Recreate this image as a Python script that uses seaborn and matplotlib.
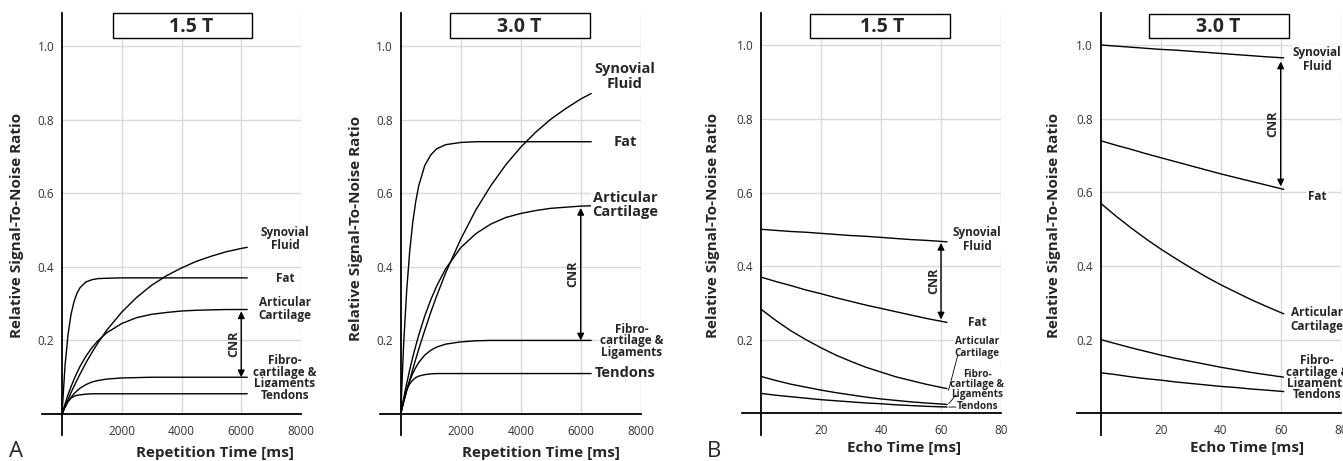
import numpy as np
import pandas as pd

import matplotlib
matplotlib.use("Agg")

import matplotlib.pyplot as plt
from matplotlib.patches import Rectangle
import seaborn as sns


sns.set_style("white")
plt.rcParams["font.family"] = ["Open Sans", "DejaVu Sans"]

W, H = 1343, 461

TISSUES = ["Synovial Fluid", "Fat", "Articular Cartilage", "Fibrocartilage & Ligaments", "Tendons"]

# Panel A, 1.5 T: relative SNR vs repetition time [ms]
tr_15 = [0, 100, 200, 300, 400, 500, 600, 800, 1000, 1200, 1500, 2000, 2500, 3000, 3500,
         4000, 4500, 5000, 5500, 6000, 6200]
syn_tr_15 = [0, 0.020, 0.039, 0.058, 0.075, 0.092, 0.108, 0.139, 0.167, 0.193, 0.228, 0.277,
             0.317, 0.350, 0.376, 0.397, 0.415, 0.429, 0.441, 0.450, 0.453]
fat_tr_15 = [0, 0.131, 0.215, 0.270, 0.305, 0.328, 0.343, 0.359, 0.365, 0.368, 0.369, 0.370,
             0.370, 0.370, 0.370, 0.370, 0.370, 0.370, 0.370, 0.370, 0.370]
art_tr_15 = [0, 0.027, 0.052, 0.074, 0.094, 0.112, 0.129, 0.157, 0.180, 0.199, 0.221, 0.246,
             0.262, 0.271, 0.276, 0.280, 0.282, 0.283, 0.284, 0.284, 0.284]
fib_tr_15 = [0, 0.018, 0.033, 0.045, 0.055, 0.063, 0.070, 0.080, 0.087, 0.091, 0.095, 0.098,
             0.099, 0.100, 0.100, 0.100, 0.100, 0.100, 0.100, 0.100, 0.100]
ten_tr_15 = [0, 0.022, 0.035, 0.043, 0.048, 0.051, 0.052, 0.054, 0.055, 0.055, 0.055, 0.055,
             0.055, 0.055, 0.055, 0.055, 0.055, 0.055, 0.055, 0.055, 0.055]

# Panel A, 3.0 T
tr_30 = [0, 100, 200, 300, 400, 500, 600, 800, 1000, 1200, 1500, 2000, 2500, 3000, 3500,
         4000, 4500, 5000, 5500, 6000, 6350]
syn_tr_30 = [0, 0.032, 0.063, 0.092, 0.121, 0.149, 0.176, 0.227, 0.276, 0.321, 0.384, 0.475,
             0.554, 0.620, 0.677, 0.725, 0.766, 0.801, 0.830, 0.856, 0.871]
fat_tr_30 = [0, 0.193, 0.336, 0.442, 0.520, 0.577, 0.620, 0.675, 0.704, 0.721, 0.732, 0.738,
             0.740, 0.740, 0.740, 0.740, 0.740, 0.740, 0.740, 0.740, 0.740]
art_tr_30 = [0, 0.043, 0.083, 0.120, 0.154, 0.185, 0.214, 0.266, 0.310, 0.348, 0.395, 0.452,
             0.490, 0.516, 0.534, 0.545, 0.553, 0.559, 0.562, 0.565, 0.566]
fib_tr_30 = [0, 0.036, 0.066, 0.090, 0.110, 0.126, 0.140, 0.160, 0.173, 0.182, 0.190, 0.196,
             0.199, 0.200, 0.200, 0.200, 0.200, 0.200, 0.200, 0.200, 0.200]
ten_tr_30 = [0, 0.040, 0.066, 0.082, 0.092, 0.099, 0.103, 0.107, 0.109, 0.110, 0.110, 0.110,
             0.110, 0.110, 0.110, 0.110, 0.110, 0.110, 0.110, 0.110, 0.110]

# Panel B, 1.5 T: relative SNR vs echo time [ms]
te_15 = [0, 5, 10, 15, 20, 25, 30, 35, 40, 45, 50, 55, 62]
syn_te_15 = [0.500, 0.497, 0.494, 0.492, 0.489, 0.486, 0.483, 0.481, 0.478, 0.475, 0.472, 0.470, 0.466]
fat_te_15 = [0.370, 0.358, 0.347, 0.335, 0.325, 0.314, 0.304, 0.294, 0.285, 0.276, 0.267, 0.258, 0.247]
art_te_15 = [0.283, 0.252, 0.224, 0.200, 0.178, 0.158, 0.141, 0.125, 0.112, 0.099, 0.089, 0.079, 0.067]
fib_te_15 = [0.100, 0.089, 0.079, 0.071, 0.063, 0.056, 0.050, 0.044, 0.039, 0.035, 0.031, 0.028, 0.024]
ten_te_15 = [0.054, 0.049, 0.045, 0.041, 0.037, 0.034, 0.031, 0.028, 0.026, 0.023, 0.021, 0.019, 0.017]

# Panel B, 3.0 T
te_30 = [0, 5, 10, 15, 20, 25, 30, 35, 40, 45, 50, 55, 61]
syn_te_30 = [1.000, 0.997, 0.994, 0.991, 0.988, 0.986, 0.983, 0.980, 0.977, 0.974, 0.971, 0.968, 0.965]
fat_te_30 = [0.740, 0.728, 0.717, 0.705, 0.694, 0.683, 0.672, 0.661, 0.650, 0.640, 0.630, 0.620, 0.608]
art_te_30 = [0.570, 0.536, 0.504, 0.474, 0.446, 0.420, 0.395, 0.371, 0.349, 0.329, 0.309, 0.291, 0.270]
fib_te_30 = [0.200, 0.189, 0.178, 0.168, 0.158, 0.149, 0.141, 0.133, 0.125, 0.118, 0.111, 0.105, 0.098]
ten_te_30 = [0.110, 0.105, 0.099, 0.094, 0.090, 0.085, 0.081, 0.077, 0.073, 0.070, 0.066, 0.063, 0.059]

y_ticks = [0.2, 0.4, 0.6, 0.8, 1.0]
tr_ticks = [2000, 4000, 6000, 8000]
te_ticks = [20, 40, 60, 80]

LABELS = ["Synovial\nFluid", "Fat", "Articular\nCartilage", "Fibro-\ncartilage &\nLigaments", "Tendons"]


def fx(px):
    return px / W


def fy(py):
    return 1 - py / H


def add_axes(fig, left, top, right, bottom):
    return fig.add_axes([fx(left), fy(bottom), (right - left) / W, (bottom - top) / H])


def draw_panel(fig, rect, x, series, xlim, ylim, xticks, ticklabels):
    ax = add_axes(fig, *rect)
    df = pd.DataFrame({
        "x": np.tile(x, len(series)),
        "signal": np.concatenate(series),
        "tissue": np.repeat(TISSUES, len(x)),
    })
    sns.lineplot(data=df, x="x", y="signal", hue="tissue", palette=["black"] * 5,
                 legend=False, lw=1.0, estimator=None, sort=False, ax=ax, zorder=3)
    ax.set(xlim=xlim, ylim=ylim, xlabel="", ylabel="")
    ax.hlines(y_ticks, 0, xticks[-1], color="#d9d9d9", lw=1.0, zorder=0)
    ax.vlines(xticks, 0, ylim[1], color="#d9d9d9", lw=1.0, zorder=0)
    for side in ["top", "right"]:
        ax.spines[side].set_visible(False)
    for side in ["left", "bottom"]:
        ax.spines[side].set_position(("data", 0))
        ax.spines[side].set_linewidth(1.3)
        ax.spines[side].set_color("black")
        ax.spines[side].set_zorder(4.5)
    ax.set_yticks(y_ticks)
    ax.set_yticklabels([f"{v:.1f}" for v in y_ticks])
    ax.set_xticks(xticks)
    ax.set_xticklabels(ticklabels)
    ax.tick_params(axis="y", direction="inout", length=8, width=1.1, pad=1.5,
                   labelsize=8.5, labelcolor="#333333")
    ax.tick_params(axis="x", direction="inout", length=6, width=1.1, pad=5,
                   labelsize=8.5, labelcolor="#333333")
    ax.patch.set_alpha(0)
    return ax


def title_box(fig, left, top, right, bottom, text, cx):
    fig.add_artist(Rectangle((fx(left), fy(bottom)), (right - left) / W, (bottom - top) / H,
                             transform=fig.transFigure, facecolor="white",
                             edgecolor="black", lw=1.0, zorder=5))
    fig.text(fx(cx), fy((top + bottom) / 2 + 1), text, ha="center", va="center",
             fontsize=14, fontweight="bold", zorder=6)


def tissue_labels(ax, xpos, ypos, sizes):
    for i, (label, y, fs) in enumerate(zip(LABELS, ypos, sizes)):
        ls = 0.85 if i == 3 else 1.05
        ax.text(xpos[i], y, label, ha="center", va="center", fontsize=fs, fontweight="bold",
                linespacing=ls, zorder=4, clip_on=False,
                bbox=dict(facecolor="white", edgecolor="none", pad=0.8))


def cnr_arrow(ax, x, y_top, y_bot, dx=-5.5):
    ax.annotate("", xy=(x, y_bot), xytext=(x, y_top),
                arrowprops=dict(arrowstyle="<|-|>", color="black", lw=1.0,
                                mutation_scale=10, shrinkA=0, shrinkB=0), zorder=5)
    ax.annotate("CNR", xy=(x, (y_top + y_bot) / 2), xytext=(dx, 0), textcoords="offset points",
                rotation=90, ha="center", va="center", fontsize=9, fontweight="bold", zorder=5)


fig = plt.figure(figsize=(W / 100, H / 100), dpi=100)

# ---- Panel A, 1.5 T
ax1 = draw_panel(fig, (41.7, 13.3, 301, 435), tr_15,
                 [syn_tr_15, fat_tr_15, art_tr_15, fib_tr_15, ten_tr_15],
                 (-680, 8000), (-0.057, 1.089), tr_ticks, [str(t) for t in tr_ticks])
tissue_labels(ax1, [7465] * 5, [0.4755, 0.3696, 0.285, 0.114, 0.0516], [8.5] * 5)
i6 = tr_15.index(6000)
cnr_arrow(ax1, 6000, art_tr_15[i6] - 0.005, fib_tr_15[i6])
title_box(fig, 113, 13, 252, 38, "1.5 T", 191)

# ---- Panel A, 3.0 T
ax2 = draw_panel(fig, (380, 13.3, 640.7, 435), tr_30,
                 [syn_tr_30, fat_tr_30, art_tr_30, fib_tr_30, ten_tr_30],
                 (-690, 8000), (-0.057, 1.089), tr_ticks, [str(t) for t in tr_ticks])
tissue_labels(ax2, [7477, 7477, 7477, 7700, 7477], [0.917, 0.740, 0.568, 0.199, 0.1106],
              [10.5, 10.5, 10.5, 8.5, 10.5])
i6 = tr_30.index(6000)
cnr_arrow(ax2, 6000, art_tr_30[i6] - 0.005, fib_tr_30[i6])
title_box(fig, 450, 13, 590, 38, "3.0 T", 519)

# ---- Panel B, 1.5 T
ax3 = draw_panel(fig, (741.7, 13.3, 1001, 435), te_15,
                 [syn_te_15, fat_te_15, art_te_15, fib_te_15, ten_te_15],
                 (-6.43, 80), (-0.059, 1.087), te_ticks, [str(t) for t in te_ticks])
tissue_labels(ax3, [72.1] * 5, [0.472, 0.246, 0.179, 0.078, 0.018], [8.5, 8.5, 7.2, 7.2, 7.2])
cnr_arrow(ax3, 60, syn_te_15[-1] - 0.003, fat_te_15[-1] + 0.008)
# leader lines from the small labels to the curve ends
for (x0, y0), (x1, y1) in [((65.6, 0.158), (te_15[-1] + 0.5, art_te_15[-1] - 0.005)),
                           ((65.0, 0.050), (te_15[-1] + 0.6, fib_te_15[-1] + 0.002)),
                           ((65.0, 0.017), (te_15[-1] + 0.6, ten_te_15[-1]))]:
    ax3.annotate("", xy=(x1, y1), xytext=(x0, y0), zorder=6,
                 arrowprops=dict(arrowstyle="-", color="black", lw=0.6, shrinkA=0, shrinkB=0))
title_box(fig, 810, 14, 950, 38.5, "1.5 T", 882)

# ---- Panel B, 3.0 T
ax4 = draw_panel(fig, (1077, 13.3, 1340.7, 435), te_30,
                 [syn_te_30, fat_te_30, art_te_30, fib_te_30, ten_te_30],
                 (-7.9, 80), (-0.059, 1.086), te_ticks, [str(t) for t in te_ticks])
tissue_labels(ax4, [72.2] * 5, [0.961, 0.589, 0.255, 0.111, 0.05], [8.5] * 5)
cnr_arrow(ax4, 60, syn_te_30[-1] - 0.01, fat_te_30[-1] + 0.008)
title_box(fig, 1149, 14, 1288.7, 38.3, "3.0 T", 1218)

# ---- axis titles and panel letters
ylab = "Relative Signal-To-Noise Ratio"
for cx, cy in [(17, 225), (356, 228), (713, 225), (1053.7, 225)]:
    fig.text(fx(cx), fy(cy), ylab, rotation=90, ha="center", va="center",
             fontsize=11, fontweight="bold")
for cx, cy, txt in [(215, 453, "Repetition Time [ms]"), (541, 453, "Repetition Time [ms]"),
                    (904, 448, "Echo Time [ms]"), (1246.7, 448, "Echo Time [ms]")]:
    fig.text(fx(cx), fy(cy), txt, ha="center", va="center", fontsize=11, fontweight="bold")
fig.text(fx(16), fy(451), "A", ha="center", va="center", fontsize=16)
fig.text(fx(714), fy(451), "B", ha="center", va="center", fontsize=16)

fig.savefig("out.png", dpi=100, facecolor="white")
plt.close(fig)
